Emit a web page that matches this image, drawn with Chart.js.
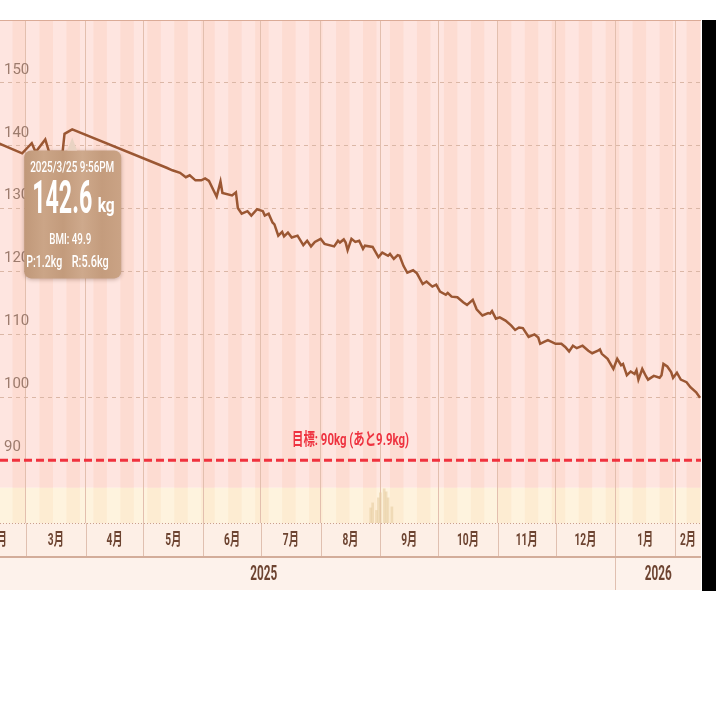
<!DOCTYPE html>
<html>
<head>
<meta charset="utf-8">
<style>
html, body { margin: 0; padding: 0; background: #fff; }
canvas { display: block; }
</style>
<script src="https://cdn.jsdelivr.net/npm/chart.js@4.4.1/dist/chart.umd.min.js"></script>
</head>
<body>
<canvas id="myChart" width="716" height="716"></canvas>
<script>
// day numbers count from 2025-01-01 (= 0)
var days = [
    44, 57, 62, 64, 69, 71, 78, 79, 83,
    132, 135, 139, 142, 144, 147, 150, 152, 154, 158,
    160, 161, 166, 168, 169, 171, 174, 176, 179, 182,
    183, 185, 187, 188, 190, 192, 193, 195, 197, 200,
    203, 205, 207, 209, 212, 214, 219, 221, 222, 224,
    225, 226, 228, 230, 232, 234, 235, 239, 242, 244,
    247, 248, 250, 252, 253, 255, 257, 260, 262, 265,
    267, 270, 272, 274, 277, 278, 280, 283, 286, 288,
    291, 293, 296, 299, 300, 301, 303, 305, 308, 311,
    313, 315, 317, 320, 323, 325, 326, 328, 330, 334,
    337, 339, 341, 343, 345, 348, 351, 353, 356, 357,
    358, 361, 364, 366, 368, 369, 371, 373, 375, 376,
    377, 379, 381, 382, 385, 388, 389, 390, 392, 394,
    395, 397, 399, 402, 404, 407, 409
];
var weights = [
    140.5, 138.8, 140.4, 139.0, 141.0, 139.0, 139.0, 141.9, 142.6,
    136.5, 136.1, 135.7, 135.0, 135.3, 134.5, 134.5, 134.8, 134.4, 131.9,
    134.3, 132.5, 132.1, 132.6, 130.1, 129.2, 129.6, 128.9, 129.9, 129.6,
    128.9, 129.2, 127.8, 127.5, 125.7, 126.3, 125.6, 126.2, 125.4, 125.7,
    124.2, 124.9, 124.0, 124.7, 125.2, 124.4, 124.0, 124.9, 124.6, 125.1,
    124.6, 123.4, 125.2, 124.7, 124.9, 123.6, 124.1, 123.9, 122.3, 123.0,
    122.5, 122.8, 122.0, 122.6, 122.5, 120.9, 119.8, 120.2, 119.7, 118.0,
    118.4, 117.6, 117.9, 116.8, 116.3, 116.6, 116.0, 115.9, 115.1, 114.7,
    115.5, 114.0, 113.0, 113.4, 113.3, 113.7, 112.5, 112.7, 112.2, 111.4,
    110.7, 111.1, 111.0, 109.6, 110.0, 109.5, 108.5, 108.8, 109.1, 108.5,
    108.5, 108.0, 107.3, 108.2, 107.8, 108.2, 107.4, 107.0, 107.4, 107.6,
    106.9, 106.1, 104.5, 106.1, 105.1, 105.3, 103.5, 104.1, 103.7, 104.3,
    102.8, 104.5, 103.3, 102.8, 103.4, 103.1, 103.5, 105.3, 104.9, 104.0,
    103.1, 103.9, 102.8, 102.4, 101.6, 100.8, 99.9
];

// faint bars in the lower band
var barDays = [238, 239, 241, 242, 243, 245, 246, 247, 249];
var barValues = [3.0, 4.0, 2.5, 5.0, 6.0, 6.8, 6.2, 5.0, 3.2];

var monthStarts = [31, 59, 90, 120, 151, 181, 212, 243, 273, 304, 334, 365, 396, 424];
var monthLabels = ['2月', '3月', '4月', '5月', '6月', '7月', '8月', '9月', '10月', '11月', '12月', '1月', '2月'];
var yearStarts = [0, 365, 730];
var yearLabels = ['2025', '2026'];
var yTicks = [90, 100, 110, 120, 130, 140, 150];

var goal = 90;
var goalLabel = '目標: 90kg (あと9.9kg)';
var tipDay = 83;
var tipLines = ['2025/3/25 9:56PM', '142.6', 'kg', 'BMI: 49.9', 'P:1.2kg', 'R:5.6kg'];

var narrow = "'Roboto', 'Noto Sans CJK JP', sans-serif";

var points = days.map(function (d, i) { return {x: d, y: weights[i]}; });
var bars = barDays.map(function (d, i) { return {x: d, y: barValues[i]}; });

// draws text squeezed to a given width
function fitText(ctx, s, cx, cy, font, w) {
    ctx.save();
    ctx.font = font;
    var m = ctx.measureText(s).width;
    ctx.translate(cx, cy);
    ctx.scale(w / m, 1);
    ctx.textAlign = 'center';
    ctx.textBaseline = 'middle';
    ctx.fillText(s, 0, 0);
    ctx.restore();
}

var decor = {
    id: 'decor',
    beforeDraw: function (chart) {
        var ctx = chart.ctx, a = chart.chartArea, x = chart.scales.x, y = chart.scales.y;
        var bandTop = y.getPixelForValue(85.6);
        ctx.save();
        ctx.beginPath();
        ctx.rect(a.left, a.top, a.right - a.left, a.bottom - a.top);
        ctx.clip();
        ctx.fillStyle = '#fee5e0';
        ctx.fillRect(a.left, a.top, a.right - a.left, bandTop - a.top);
        ctx.fillStyle = '#fef3de';
        ctx.fillRect(a.left, bandTop, a.right - a.left, a.bottom - bandTop);
        for (var d = 52 - 14 * 4; d < x.max; d += 14) {
            var x0 = x.getPixelForValue(d), x1 = x.getPixelForValue(d + 7);
            ctx.fillStyle = '#fddcd2';
            ctx.fillRect(x0, a.top, x1 - x0, bandTop - a.top);
            ctx.fillStyle = '#fdecd2';
            ctx.fillRect(x0, bandTop, x1 - x0, a.bottom - bandTop);
        }
        ctx.restore();
    },
    afterDatasetsDraw: function (chart) {
        var ctx = chart.ctx, a = chart.chartArea, x = chart.scales.x, y = chart.scales.y;

        // goal line
        var gy = y.getPixelForValue(goal);
        ctx.save();
        ctx.strokeStyle = '#f0323e';
        ctx.lineWidth = 3;
        ctx.setLineDash([8, 4]);
        ctx.beginPath();
        ctx.moveTo(a.left, gy);
        ctx.lineTo(a.right, gy);
        ctx.stroke();
        ctx.restore();
        ctx.fillStyle = '#ee3340';
        fitText(ctx, goalLabel, (a.left + a.right) / 2, gy - 19, 'bold 17px ' + narrow, 117);

        // tooltip at the chosen point
        var px = x.getPixelForValue(tipDay);
        var py = y.getPixelForValue(weights[days.indexOf(tipDay)]);
        var bx = px - 48, by = py + 21, bw = 97, bh = 128;
        ctx.save();
        ctx.shadowColor = 'rgba(90,50,30,0.35)';
        ctx.shadowBlur = 4;
        ctx.shadowOffsetY = 1;
        var g = ctx.createLinearGradient(bx, 0, bx + bw, 0);
        g.addColorStop(0, '#c09879');
        g.addColorStop(0.2, '#cba587');
        g.addColorStop(0.4, '#c39b7c');
        g.addColorStop(0.6, '#cea98c');
        g.addColorStop(0.8, '#c49c7d');
        g.addColorStop(1, '#caa385');
        ctx.fillStyle = g;
        ctx.beginPath();
        ctx.roundRect(bx, by, bw, bh, 7);
        ctx.fill();
        ctx.restore();
        ctx.fillStyle = '#e9d3c3';
        ctx.beginPath();
        ctx.moveTo(px - 5, by);
        ctx.lineTo(px, py + 8);
        ctx.lineTo(px + 5, by);
        ctx.closePath();
        ctx.fill();

        ctx.fillStyle = '#ffffff';
        fitText(ctx, tipLines[0], px, by + 18, '500 15px ' + narrow, 84);
        fitText(ctx, tipLines[1], px - 10, by + 51, 'bold 46px ' + narrow, 60);
        fitText(ctx, tipLines[2], px + 34, by + 56, 'bold 21px ' + narrow, 17);
        fitText(ctx, tipLines[3], px - 2, by + 90, '500 14px ' + narrow, 42);
        fitText(ctx, tipLines[4], px - 28, by + 112, '500 17px ' + narrow, 36);
        fitText(ctx, tipLines[5], px + 18, by + 112, '500 17px ' + narrow, 37);
    },
    afterDraw: function (chart) {
        var ctx = chart.ctx, a = chart.chartArea, x = chart.scales.x;
        var r1 = a.bottom, r2 = a.bottom + 34, r3 = a.bottom + 67;
        ctx.save();
        ctx.fillStyle = '#fdefe6';
        ctx.fillRect(a.left, r1, a.right - a.left, r2 - r1);
        ctx.fillStyle = '#fdf2eb';
        ctx.fillRect(a.left, r2, a.right - a.left, r3 - r2);

        ctx.beginPath();
        ctx.rect(a.left, r1, a.right - a.left, r3 - r1);
        ctx.clip();

        // month row
        ctx.strokeStyle = '#e0c0b0';
        ctx.lineWidth = 1;
        monthStarts.forEach(function (d) {
            var xx = Math.round(x.getPixelForValue(d)) + 0.5;
            ctx.beginPath();
            ctx.moveTo(xx, r1);
            ctx.lineTo(xx, r2);
            ctx.stroke();
        });
        ctx.fillStyle = '#6d4431';
        monthLabels.forEach(function (s, i) {
            var x0 = x.getPixelForValue(monthStarts[i]);
            var x1 = Math.min(x.getPixelForValue(monthStarts[i + 1]), a.right);
            fitText(ctx, s, (x0 + x1) / 2, (r1 + r2) / 2 + 1, 'bold 17px ' + narrow, s.length > 2 ? 22 : 16);
        });

        // year row
        yearLabels.forEach(function (s, i) {
            var x0 = x.getPixelForValue(yearStarts[i]);
            var x1 = Math.min(x.getPixelForValue(yearStarts[i + 1]), a.right);
            if (i > 0) {
                ctx.beginPath();
                ctx.moveTo(Math.round(x0) + 0.5, r2);
                ctx.lineTo(Math.round(x0) + 0.5, r3);
                ctx.stroke();
            }
            fitText(ctx, s, (x0 + x1) / 2, (r2 + r3) / 2 + 1, 'bold 20px ' + narrow, 27);
        });

        ctx.strokeStyle = '#c9a08c';
        ctx.setLineDash([1, 2]);
        ctx.beginPath();
        ctx.moveTo(a.left, r1 + 0.5);
        ctx.lineTo(a.right, r1 + 0.5);
        ctx.stroke();
        ctx.setLineDash([]);
        ctx.strokeStyle = '#d3ad9a';
        ctx.lineWidth = 2;
        ctx.beginPath();
        ctx.moveTo(a.left, r2);
        ctx.lineTo(a.right, r2);
        ctx.stroke();
        ctx.restore();

        // top border and the dark strip at the right
        ctx.save();
        ctx.strokeStyle = '#dbab97';
        ctx.lineWidth = 1;
        ctx.beginPath();
        ctx.moveTo(a.left, a.top + 0.5);
        ctx.lineTo(a.right, a.top + 0.5);
        ctx.stroke();
        ctx.fillStyle = '#000';
        ctx.fillRect(a.right + 1, a.top, chart.width - a.right - 1, r3 + 1 - a.top);
        ctx.restore();
    }
};

var ctx = document.getElementById('myChart').getContext('2d');
var myChart = new Chart(ctx, {
    data: {
        datasets: [{
            type: 'line',
            label: 'weight',
            data: points,
            borderColor: '#9b5733',
            borderWidth: 2.5,
            pointRadius: 0,
            tension: 0,
            yAxisID: 'y'
        },
        {
            type: 'bar',
            label: 'band',
            data: bars,
            backgroundColor: 'rgba(232,206,164,0.6)',
            barThickness: 2,
            yAxisID: 'y2'
        }]
    },
    options: {
        responsive: false,
        animation: false,
        layout: {
            padding: {top: 20, right: 15, bottom: 193, left: 0}
        },
        plugins: {
            legend: {display: false},
            tooltip: {enabled: false}
        },
        scales: {
            x: {
                type: 'linear',
                offset: false,
                min: 45.5,
                max: 409.5,
                afterBuildTicks: function (scale) {
                    scale.ticks = monthStarts.map(function (d) { return {value: d}; });
                },
                afterFit: function (scale) { scale.height = 0; },
                ticks: {display: false},
                grid: {color: '#e3bfae', drawTicks: false, offset: false},
                border: {display: false}
            },
            y: {
                min: 80,
                max: 160,
                afterBuildTicks: function (scale) {
                    scale.ticks = yTicks.map(function (v) { return {value: v}; });
                },
                afterFit: function (scale) { scale.width = 0; },
                ticks: {
                    mirror: true,
                    padding: 4,
                    labelOffset: -13,
                    color: '#9c7b6d',
                    font: {family: "'Roboto', sans-serif", size: 15}
                },
                grid: {
                    color: function (c) { return c.tick && c.tick.value > goal ? '#dbb7a6' : 'transparent'; },
                    drawTicks: false
                },
                border: {display: false, dash: [4, 4]}
            },
            y2: {
                display: false,
                min: 0,
                max: 100
            }
        }
    },
    plugins: [decor]
});
</script>
</body>
</html>
